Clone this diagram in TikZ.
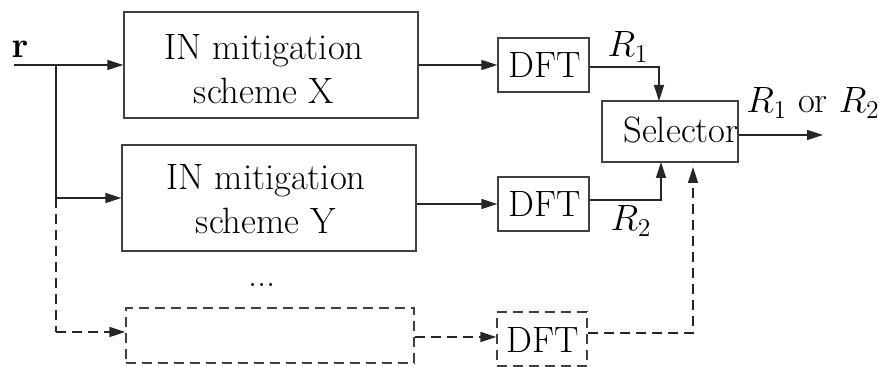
\documentclass[tikz,border=0pt]{standalone}
\usepackage{fix-cm}
\usetikzlibrary{arrows.meta,calc}
\begin{document}
\begin{tikzpicture}[x=0.5pt,y=-0.5pt,
  every node/.style={font=\fontsize{18.3}{22}\selectfont},
  line/.style={draw=black!85,line width=0.7pt},
  arr/.style={line,-{Triangle[length=8pt,width=5pt]}},
  dline/.style={line,dash pattern=on 5pt off 3pt},
  darr/.style={arr,dash pattern=on 5pt off 3pt},
  blk/.style={draw=black!75,line width=0.65pt,inner sep=0pt}]
\useasboundingbox (0,0) rectangle (879,367);
% blocks
\node[blk,minimum width=147pt,minimum height=53pt] (bx) at (271,65) {};
\node[blk,minimum width=147pt,minimum height=53pt] (by) at (269,198) {};
\node[blk,dash pattern=on 5pt off 3pt,minimum width=144pt,minimum height=27.5pt] (bz) at (270,335.5) {};
\node[align=center,inner sep=0pt,anchor=base] (tx) at (264,104) {IN mitigation\\scheme X};
\node[align=center,inner sep=0pt,anchor=base] (ty) at (266,234) {IN mitigation\\scheme Y};
\node[inner sep=0pt,anchor=base] (dots) at (262,287) {...};
\node[blk,minimum width=45.5pt,minimum height=27pt] (d1) at (543.5,65) {};
\node[blk,minimum width=45.5pt,minimum height=27pt] (d2) at (543.5,204) {};
\node[blk,dash pattern=on 5pt off 3pt,minimum width=45pt,minimum height=27pt] (d3) at (542,339) {};
\node[inner sep=0pt,anchor=base] (t1) at (544.5,78) {DFT};
\node[inner sep=0pt,anchor=base] (t2) at (544.5,217) {DFT};
\node[inner sep=0pt,anchor=base] (t3) at (543,353) {DFT};
\node[blk,minimum width=68pt,minimum height=30.5pt] (sel) at (670,131.5) {};
\node[inner sep=0pt,anchor=base] (ts) at (681,143) {Selector};
% input
\node[inner sep=0pt,anchor=base] (r) at (20,58) {$\mathbf{r}$};
\coordinate (in) at (14,65);
\coordinate (j1) at (56,65);
\coordinate (j2) at (56,198);
\coordinate (j3) at (56,332);
\draw[arr] (in) -- (bx.west);
\draw[line] (j1) -- (j2);
\draw[arr] (j2) -- (by.west);
\draw[dline] (j2) -- (j3);
\draw[darr] (j3) -- (j3 -| bz.west);
% to DFT
\draw[arr] (bx.east) -- (d1.west);
\draw[arr] (d2.west -| by.east) -- (d2.west);
\draw[darr] ($(d3.west -| bz.east)+(0,-2)$) -- ($(d3.west)+(0,-2)$);
% to selector
\coordinate (s1) at (659,101);
\coordinate (s2) at (661,162);
\coordinate (s3) at (693,167);
\draw[arr] ($(d1.east)+(0,2)$) -| (s1);
\draw[arr] ($(d2.east)+(0,-4)$) -| (s2);
\draw[darr] ($(d3.east)+(0,-6)$) -| (s3);
\node[inner sep=0pt,anchor=base] (l1) at (628,57) {$R_1$};
\node[inner sep=0pt,anchor=base] (l2) at (631,231) {$R_2$};
% output
\coordinate (out) at (823,135);
\draw[arr] (sel.east |- out) -- (out);
\node[inner sep=0pt,anchor=base] (lo) at (813,113) {$R_1$ or $R_2$};
\end{tikzpicture}
\end{document}
